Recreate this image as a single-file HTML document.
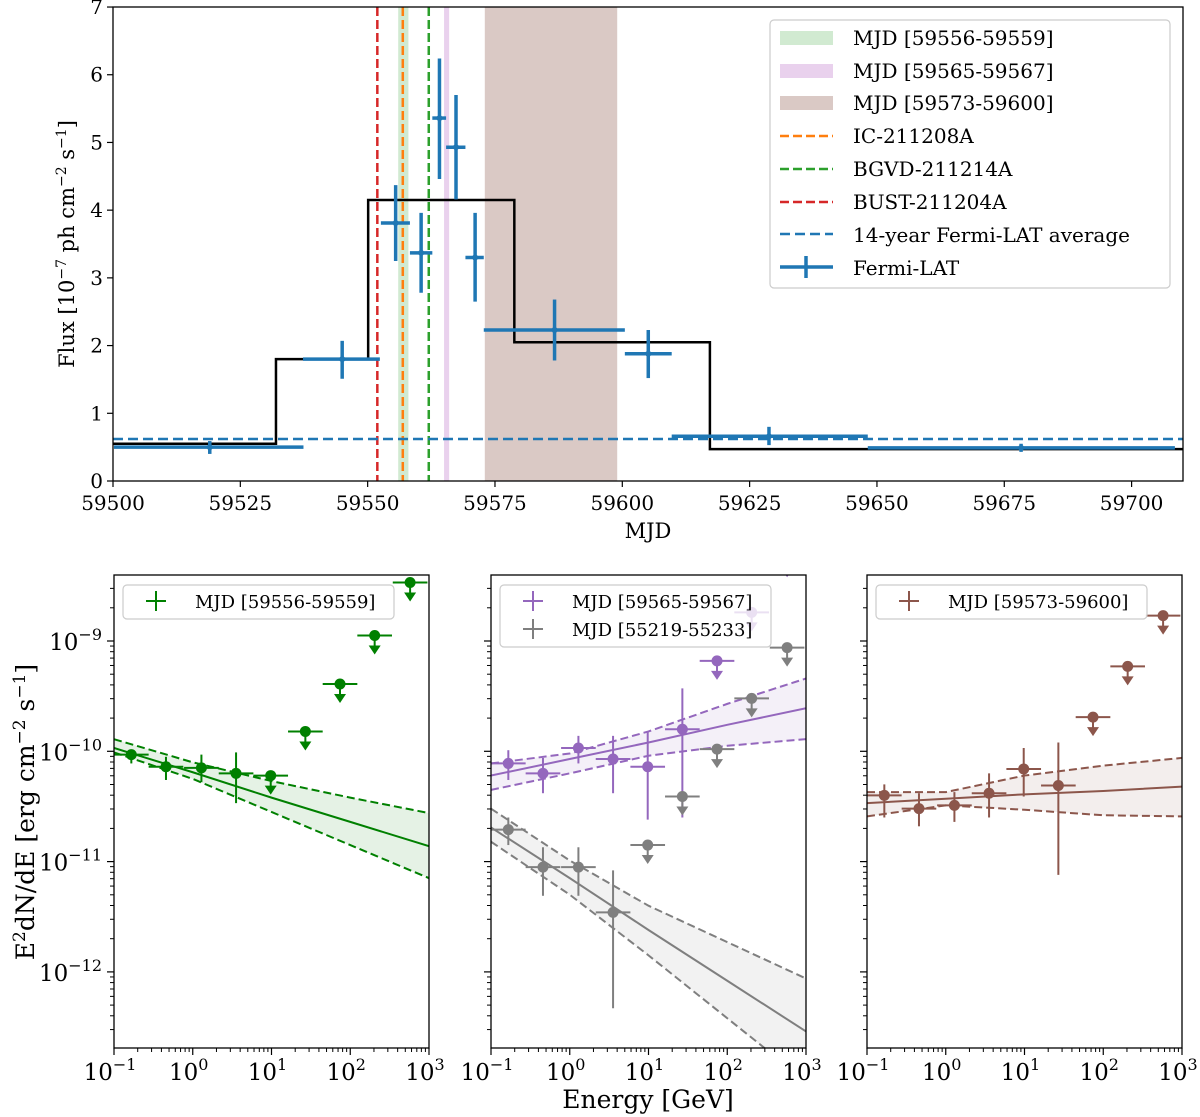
<!DOCTYPE html>
<html><head><meta charset="utf-8"><title>Fermi-LAT light curve and SEDs</title>
<style>
html,body{margin:0;padding:0;background:#fff;}
svg{display:block;font-family:"DejaVu Serif","Liberation Serif",serif;}
</style></head>
<body>
<svg id="fig" xmlns="http://www.w3.org/2000/svg" width="1200" height="1117" viewBox="0 0 1200 1117"></svg>
<script>
// ---------- TOP PANEL DATA ----------
const lcMjd   = [59519.0,59545.0,59555.5,59560.5,59564.1,59567.35,59571.1,59586.7,59605.1,59628.8,59678.3];
const lcFlux  = [0.50,1.80,3.81,3.37,5.36,4.93,3.30,2.23,1.88,0.66,0.49];
const lcXlo   = [59500.2,59537.3,59552.6,59558.3,59562.7,59565.4,59569.2,59572.8,59600.5,59609.7,59648.2];
const lcXhi   = [59537.4,59552.4,59558.3,59562.7,59565.4,59569.2,59572.8,59600.5,59609.7,59648.2,59708.5];
const lcYlo   = [0.40,1.51,3.25,2.78,4.46,4.16,2.65,1.78,1.52,0.53,0.43];
const lcYhi   = [0.59,2.07,4.37,3.96,6.24,5.70,3.96,2.68,2.23,0.80,0.55];
const bbEdges = [59500,59532.0,59550.1,59578.8,59617.2,59710];
const bbLevels= [0.55,1.80,4.15,2.05,0.47];
const avgFlux = 0.62;
const bandStart = [59556,59565,59573];
const bandEnd   = [59558,59566,59599];
const nuMjd = [59551.9,59556.9,59562.0];
const topXTicks = [59500,59525,59550,59575,59600,59625,59650,59675,59700];
const topYTicks = [0,1,2,3,4,5,6,7];

// ---------- BOTTOM PANELS DATA (log10 values) ----------
const logE = [-0.78,-0.34,0.11,0.55,0.99,1.43,1.87,2.31,2.76];
const logEhw = 0.22;
const greenF  = [-10.03,-10.14,-10.15,-10.20,-10.22,-9.82,-9.39,-8.95,-8.47];
const greenLo = [-10.11,-10.26,-10.28,-10.47];
const greenHi = [-9.99,-10.05,-10.03,-10.01];
const purpleF = [-10.11,-10.20,-9.97,-10.07,-10.14,-9.80,-9.18,-8.74,-8.25];
const purpleLo= [-10.26,-10.38,-10.11,-10.38,-10.62,-10.60];
const purpleHi= [-9.99,-10.06,-9.86,-9.86,-9.82,-9.43];
const grayF   = [-10.71,-11.05,-11.05,-11.46,-10.85,-10.41,-9.98,-9.52,-9.06];
const grayLo  = [-10.85,-11.31,-11.31,-12.33];
const grayHi  = [-10.60,-10.87,-10.87,-11.08];
const brownF  = [-10.40,-10.52,-10.49,-10.38,-10.16,-10.31,-9.69,-9.23,-8.77];
const brownLo = [-10.60,-10.68,-10.64,-10.60,-10.41,-11.12];
const brownHi = [-10.30,-10.38,-10.37,-10.20,-9.97,-9.92];
// model curves sampled at logE = -1,0,1,2,3
const modelE = [-1,0,1,2,3];
const greenMid=[-9.97,-10.19,-10.42,-10.64,-10.86], greenUp=[-9.89,-10.10,-10.27,-10.42,-10.56], greenDn=[-10.01,-10.25,-10.55,-10.85,-11.15];
const purpMid=[-10.22,-10.07,-9.92,-9.76,-9.61], purpUp=[-10.11,-10.02,-9.82,-9.57,-9.34], purpDn=[-10.35,-10.20,-10.04,-9.95,-9.89];
const grayMid=[-10.69,-11.15,-11.62,-12.08,-12.54], grayUp=[-10.52,-10.99,-11.40,-11.73,-12.06], grayDn=[-10.82,-11.30,-11.85,-12.42,-12.99];
const brMid=[-10.47,-10.43,-10.39,-10.36,-10.32], brUp=[-10.37,-10.37,-10.22,-10.13,-10.06], brDn=[-10.59,-10.49,-10.53,-10.58,-10.59];
const botXTicks = [-1,0,1,2,3];
const botYTicks = [-12,-11,-10,-9];

const NS="http://www.w3.org/2000/svg";
const svg=document.getElementById('fig');
function mk(tag,attrs,parent){const e=document.createElementNS(NS,tag);for(const k in attrs)e.setAttribute(k,attrs[k]);(parent||svg).appendChild(e);return e;}

// ---- top scales
const TL=113,TR=1183,TT=7,TB=481;
const X=m=>TL+(m-59500)*5.093;
const Y=f=>TB-f*67.71;

let defs=mk('defs',{});
let cp=mk('clipPath',{id:'ctop'},defs);mk('rect',{x:TL,y:TT,width:TR-TL,height:TB-TT},cp);
const PL=[114,491,867],PW=315,PT=575,PB=1048;
PL.forEach((l,i)=>{let c=mk('clipPath',{id:'cp'+i},defs);mk('rect',{x:l,y:PT,width:PW,height:PB-PT},c);});

let gTop=mk('g',{'clip-path':'url(#ctop)'});


const bandCols=['rgba(44,160,44,0.22)','rgba(200,140,210,0.4)','rgba(140,86,75,0.32)'];
const bandNames=['band-59556-59559','band-59565-59567','band-59573-59600'];
bandStart.forEach((s,i)=>{
  let r=mk('rect',{x:X(s),y:TT,width:X(bandEnd[i])-X(s),height:TB-TT,fill:bandCols[i]},gTop);
  
  
});
const nuCols=['#d62728','#ff7f0e','#2ca02c'];
const nuNames=['bust-211204a-line','ic-211208a-line','bgvd-211214a-line'];
nuMjd.forEach((m,i)=>{
  let l=mk('line',{x1:X(m),x2:X(m),y1:TT,y2:TB,stroke:nuCols[i],'stroke-width':2.5,'stroke-dasharray':'9,4'},gTop);
  
  
});
let d='';
bbLevels.forEach((v,i)=>{d+=(i?'L':'M')+X(bbEdges[i])+','+Y(v)+'L'+X(bbEdges[i+1])+','+Y(v);});
let bb=mk('path',{d:d,fill:'none',stroke:'#000','stroke-width':2.5},gTop);


let av=mk('line',{x1:TL,x2:TR,y1:Y(avgFlux),y2:Y(avgFlux),stroke:'#1f77b4','stroke-width':2.5,'stroke-dasharray':'10,5'},gTop);


lcMjd.forEach((m,i)=>{
  let g=mk('g',{stroke:'#1f77b4','stroke-width':3.5},gTop);
  
  
  mk('line',{x1:X(lcXlo[i]),x2:X(lcXhi[i]),y1:Y(lcFlux[i]),y2:Y(lcFlux[i])},g);
  mk('line',{x1:X(m),x2:X(m),y1:Y(lcYlo[i]),y2:Y(lcYhi[i])},g);
  mk('circle',{cx:X(m),cy:Y(lcFlux[i]),r:3,fill:'#1f77b4',stroke:'none'},g);
});
let ax=mk('rect',{x:TL,y:TT,width:TR-TL,height:TB-TT,fill:'none',stroke:'#000','stroke-width':1.3});


topXTicks.forEach(t=>{
  mk('line',{x1:X(t),x2:X(t),y1:TB,y2:TB+6,stroke:'#000','stroke-width':1.2});
  let tx=mk('text',{x:X(t),y:TB+29,'font-size':20,'text-anchor':'middle'});tx.textContent=t;
  
  
});
topYTicks.forEach(t=>{
  mk('line',{x1:TL-6,x2:TL,y1:Y(t),y2:Y(t),stroke:'#000','stroke-width':1.2});
  let tx=mk('text',{x:TL-10,y:Y(t)+7,'font-size':20,'text-anchor':'end'});tx.textContent=t;
  
  
});
</script>
<script>
(function(){
const svg=document.getElementById('fig');
svg.insertAdjacentHTML('beforeend',`
<text x="648" y="538" font-size="21" text-anchor="middle">MJD</text>
<text transform="translate(74,244) rotate(-90)" font-size="21" text-anchor="middle">Flux [10<tspan font-size="14" dy="-8">−7</tspan><tspan dy="8"> ph cm</tspan><tspan font-size="14" dy="-8">−2</tspan><tspan dy="8"> s</tspan><tspan font-size="14" dy="-8">−1</tspan><tspan dy="8">]</tspan></text>
<g>
<rect x="770" y="20" width="400" height="268" rx="4" fill="#fff" fill-opacity="0.85" stroke="#ccc" stroke-width="1.2"/>
<g><rect x="780" y="31" width="53" height="14" fill="rgba(44,160,44,0.22)"/><text x="853" y="45" font-size="20">MJD [59556-59559]</text></g>
<g><rect x="780" y="64" width="53" height="14" fill="rgba(200,140,210,0.4)"/><text x="853" y="78" font-size="20">MJD [59565-59567]</text></g>
<g><rect x="780" y="96" width="53" height="14" fill="rgba(140,86,75,0.32)"/><text x="853" y="110" font-size="20">MJD [59573-59600]</text></g>
<g><line x1="780" x2="833" y1="136" y2="136" stroke="#ff7f0e" stroke-width="2.5" stroke-dasharray="9,4"/><text x="853" y="143" font-size="20">IC-211208A</text></g>
<g><line x1="780" x2="833" y1="169" y2="169" stroke="#2ca02c" stroke-width="2.5" stroke-dasharray="9,4"/><text x="853" y="176" font-size="20">BGVD-211214A</text></g>
<g><line x1="780" x2="833" y1="202" y2="202" stroke="#d62728" stroke-width="2.5" stroke-dasharray="9,4"/><text x="853" y="209" font-size="20">BUST-211204A</text></g>
<g><line x1="780" x2="833" y1="234" y2="234" stroke="#1f77b4" stroke-width="2.5" stroke-dasharray="10,5"/><text x="853" y="242" font-size="20">14-year Fermi-LAT average</text></g>
<g><line x1="780" x2="833" y1="267" y2="267" stroke="#1f77b4" stroke-width="3.5"/><line x1="806" x2="806" y1="256" y2="278" stroke="#1f77b4" stroke-width="3.5"/><text x="853" y="275" font-size="20">Fermi-LAT</text></g>
</g>
<text x="648" y="1108" font-size="25" text-anchor="middle">Energy [GeV]</text>
<text transform="translate(34,812) rotate(-90)" font-size="25" text-anchor="middle">E<tspan font-size="17" dy="-9">2</tspan><tspan dy="9">dN/dE [erg cm</tspan><tspan font-size="17" dy="-9">−2</tspan><tspan dy="9"> s</tspan><tspan font-size="17" dy="-9">−1</tspan><tspan dy="9">]</tspan></text>
`);
})();
</script>
<script>
const LX=(p,le)=>PL[p]+(le+1)*78.75;
const LY=lf=>641-(lf+9)*110.3;

function curves(p,col,mid,up,dn,gp){
  let pu=modelE.map((e,i)=>LX(p,e)+','+LY(up[i]));
  let pd=modelE.map((e,i)=>LX(p,e)+','+LY(dn[i])).reverse();
  let f=mk('polygon',{points:pu.concat(pd).join(' '),fill:col,'fill-opacity':0.1},gp);
  
  
  let m=mk('polyline',{points:modelE.map((e,i)=>LX(p,e)+','+LY(mid[i])).join(' '),fill:'none',stroke:col,'stroke-width':2},gp);
  
  
  [up,dn].forEach(arr=>{
    let l=mk('polyline',{points:modelE.map((e,i)=>LX(p,e)+','+LY(arr[i])).join(' '),fill:'none',stroke:col,'stroke-width':2,'stroke-dasharray':'8,4'},gp);
    
    
  });
}
function points(p,col,F,Lo,Hi,gp){
  F.forEach((v,i)=>{
    let g=mk('g',{stroke:col,'stroke-width':2,fill:col},gp);
    const x=LX(p,logE[i]),y=LY(v);
    mk('line',{x1:LX(p,logE[i]-logEhw),x2:LX(p,logE[i]+logEhw),y1:y,y2:y},g);
    if(i<Lo.length){
      
      mk('line',{x1:x,x2:x,y1:LY(Lo[i]),y2:LY(Hi[i])},g);
    }else{
      
      mk('line',{x1:x,x2:x,y1:y,y2:y+12},g);
      mk('polygon',{points:(x-6)+','+(y+10)+' '+(x+6)+','+(y+10)+' '+x+','+(y+19),stroke:'none'},g);
    }
    
    mk('circle',{cx:x,cy:y,r:5.5,stroke:'none'},g);
  });
}
function axes(p,labels){
  let fr=mk('rect',{x:PL[p],y:PT,width:PW,height:PB-PT,fill:'none',stroke:'#000','stroke-width':1.3});
  
  
  botXTicks.forEach(t=>{
    mk('line',{x1:LX(p,t),x2:LX(p,t),y1:PB,y2:PB+7,stroke:'#000','stroke-width':1.2});
    if(t<3){for(let k=2;k<10;k++){const xx=LX(p,t+Math.log10(k));mk('line',{x1:xx,x2:xx,y1:PB,y2:PB+4,stroke:'#000','stroke-width':1});}}
    let tx=mk('text',{x:LX(p,t)-4,y:PB+32,'font-size':23,'text-anchor':'middle'});
    tx.innerHTML='10<tspan font-size="16" dy="-10">'+(t<0?'−':'')+Math.abs(t)+'</tspan>';
    
    
  });
  for(let dd=-13;dd<=-9;dd++){
    for(let k=1;k<10;k++){
      const yy=LY(dd+Math.log10(k));
      if(yy<PT||yy>PB)continue;
      mk('line',{x1:PL[p]-(k==1?7:4),x2:PL[p],y1:yy,y2:yy,stroke:'#000','stroke-width':k==1?1.2:1});
    }
  }
  if(labels){botYTicks.forEach(t=>{
    let tx=mk('text',{x:PL[p]-12,y:LY(t)+9,'font-size':23,'text-anchor':'end'});
    tx.innerHTML='10<tspan font-size="16" dy="-10">−'+Math.abs(t)+'</tspan>';
    
    
  });}
}
function legend(p,entries){
  const h=entries.length==1?34:62;
  let g=mk('g',{});
  
  
  mk('rect',{x:PL[p]+9,y:585,width:271,height:h,rx:4,fill:'#fff','fill-opacity':0.8,stroke:'#ccc','stroke-width':1.2},g);
  entries.forEach((e,i)=>{
    const cy=601+i*28;
    let eg=mk('g',{},g);
    
    
    mk('line',{x1:PL[p]+32,x2:PL[p]+52,y1:cy,y2:cy,stroke:e[0],'stroke-width':2},eg);
    mk('line',{x1:PL[p]+42,x2:PL[p]+42,y1:cy-10,y2:cy+10,stroke:e[0],'stroke-width':2},eg);
    let t=mk('text',{x:PL[p]+81,y:cy+7,'font-size':18},eg);t.textContent=e[1];
  });
}
let g0=mk('g',{'clip-path':'url(#cp0)'});
curves(0,'#008000',greenMid,greenUp,greenDn,g0);points(0,'#008000',greenF,greenLo,greenHi,g0);
let g1=mk('g',{'clip-path':'url(#cp1)'});
curves(1,'#9467bd',purpMid,purpUp,purpDn,g1);curves(1,'#7f7f7f',grayMid,grayUp,grayDn,g1);
points(1,'#9467bd',purpleF,purpleLo,purpleHi,g1);points(1,'#7f7f7f',grayF,grayLo,grayHi,g1);
let g2=mk('g',{'clip-path':'url(#cp2)'});
curves(2,'#8c564b',brMid,brUp,brDn,g2);points(2,'#8c564b',brownF,brownLo,brownHi,g2);
axes(0,true);axes(1,false);axes(2,false);
legend(0,[['#008000','MJD [59556-59559]']]);
legend(1,[['#9467bd','MJD [59565-59567]'],['#7f7f7f','MJD [55219-55233]']]);
legend(2,[['#8c564b','MJD [59573-59600]']]);
</script>
</body></html>
